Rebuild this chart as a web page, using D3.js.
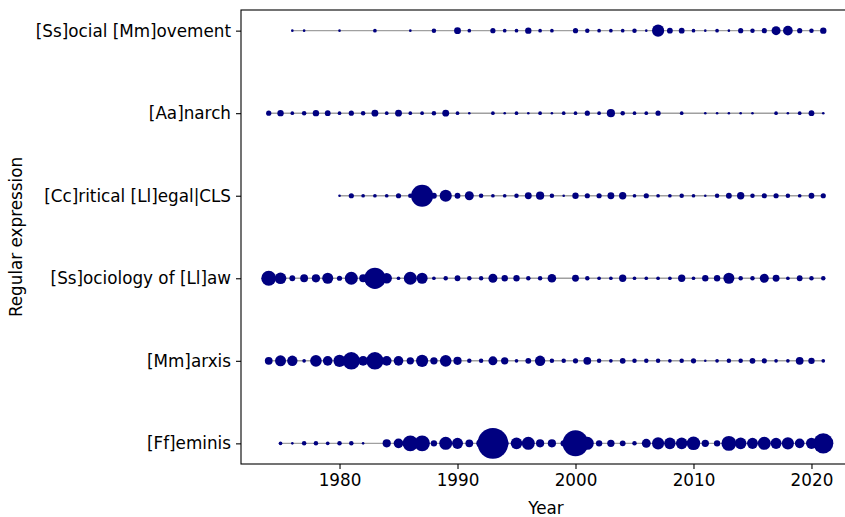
<!DOCTYPE html>
<html>
<head>
<meta charset="utf-8">
<script src="https://cdn.jsdelivr.net/npm/d3@7"></script>
<style>
  body { margin: 0; background: #fff; }
  svg { display: block; font-family: "DejaVu Sans", sans-serif; }
</style>
</head>
<body>
<svg id="chart" width="845" height="517"></svg>
<script>
/* data: [year, count] per regular expression */
const categories = [
  "[Ff]eminis",
  "[Mm]arxis",
  "[Ss]ociology of [Ll]aw",
  "[Cc]ritical [Ll]egal|CLS",
  "[Aa]narch",
  "[Ss]ocial [Mm]ovement"
];

const feminis = [
  [1975, 2], [1976, 1], [1977, 3], [1978, 3], [1979, 2], [1980, 3], [1981, 3], [1982, 1],
  [1984, 10], [1985, 14], [1986, 36], [1987, 36], [1988, 6], [1989, 25], [1990, 18],
  [1991, 9], [1992, 14], [1993, 140], [1994, 9], [1995, 20], [1996, 25], [1997, 10],
  [1998, 10], [1999, 6], [2000, 100], [2001, 25], [2002, 6], [2003, 8], [2004, 5],
  [2005, 3], [2006, 12], [2007, 22], [2008, 20], [2009, 20], [2010, 27], [2011, 8],
  [2012, 6], [2013, 33], [2014, 20], [2015, 18], [2016, 25], [2017, 18], [2018, 22],
  [2019, 14], [2020, 18], [2021, 60]
];

const marxis = [
  [1974, 9], [1975, 18], [1976, 16], [1977, 2], [1978, 20], [1979, 14], [1980, 22],
  [1981, 45], [1982, 14], [1983, 45], [1984, 14], [1985, 14], [1986, 8], [1987, 22],
  [1988, 8], [1989, 20], [1990, 10], [1991, 3], [1992, 3], [1993, 12], [1994, 8],
  [1995, 2], [1996, 5], [1997, 16], [1998, 3], [1999, 3], [2000, 4], [2001, 9],
  [2002, 3], [2003, 2], [2004, 5], [2005, 3], [2006, 3], [2007, 3], [2008, 2],
  [2009, 3], [2010, 4], [2011, 1], [2012, 2], [2013, 3], [2014, 3], [2015, 5],
  [2016, 4], [2017, 2], [2018, 2], [2019, 9], [2020, 6], [2021, 2]
];

const sociologyOfLaw = [
  [1974, 33], [1975, 20], [1976, 5], [1977, 9], [1978, 10], [1979, 18], [1980, 4],
  [1981, 25], [1982, 9], [1983, 67], [1984, 16], [1985, 2], [1986, 25], [1987, 18],
  [1988, 2], [1989, 3], [1990, 5], [1991, 3], [1992, 3], [1993, 12], [1994, 6],
  [1995, 6], [1996, 3], [1997, 3], [1998, 11], [2000, 7], [2001, 3], [2002, 2],
  [2003, 2], [2004, 8], [2005, 2], [2006, 2], [2007, 2], [2008, 2], [2009, 8],
  [2010, 2], [2011, 6], [2012, 6], [2013, 18], [2014, 3], [2015, 3], [2016, 12],
  [2017, 7], [2018, 2], [2019, 5], [2020, 3], [2021, 3]
];

const criticalLegal = [
  [1980, 1], [1981, 4], [1982, 2], [1983, 2], [1984, 2], [1985, 4], [1986, 3],
  [1987, 72], [1988, 5], [1989, 22], [1990, 5], [1991, 12], [1992, 3], [1993, 2],
  [1994, 2], [1995, 3], [1996, 7], [1997, 10], [1998, 3], [1999, 1], [2000, 6],
  [2001, 4], [2002, 4], [2003, 7], [2004, 8], [2005, 2], [2006, 4], [2007, 2],
  [2008, 2], [2009, 3], [2010, 2], [2011, 1], [2012, 3], [2013, 5], [2014, 8],
  [2015, 3], [2016, 4], [2017, 4], [2018, 3], [2019, 2], [2020, 5], [2021, 4]
];

const anarch = [
  [1974, 4], [1975, 6], [1976, 2], [1977, 3], [1978, 6], [1979, 5], [1980, 2],
  [1981, 4], [1982, 3], [1983, 7], [1984, 2], [1985, 7], [1986, 2], [1987, 2],
  [1988, 3], [1989, 7], [1990, 2], [1991, 1], [1993, 2], [1994, 1], [1995, 2],
  [1996, 1], [1997, 2], [1998, 1], [1999, 2], [2000, 2], [2001, 4], [2002, 2],
  [2003, 10], [2004, 3], [2005, 2], [2006, 2], [2007, 4], [2009, 2], [2011, 1],
  [2012, 1], [2013, 1], [2014, 1], [2015, 1], [2017, 2], [2018, 1], [2019, 2],
  [2020, 5], [2021, 1]
];

const socialMovement = [
  [1976, 1], [1977, 1], [1980, 1], [1983, 2], [1986, 1], [1988, 3], [1990, 7],
  [1991, 2], [1993, 4], [1994, 2], [1995, 2], [1996, 6], [1997, 2], [1998, 2],
  [2000, 4], [2001, 3], [2002, 2], [2003, 2], [2004, 2], [2005, 3], [2006, 1],
  [2007, 22], [2008, 5], [2009, 5], [2010, 2], [2011, 1], [2012, 2], [2013, 1],
  [2014, 4], [2015, 3], [2016, 4], [2017, 12], [2018, 14], [2019, 4], [2020, 3],
  [2021, 6]
];

const xTicks = [1980, 1990, 2000, 2010, 2020];

// rows in the same order as categories (bottom to top)
const rows = [feminis, marxis, sociologyOfLaw, criticalLegal, anarch, socialMovement];

// layout
const margin = { top: 10, left: 241, bottom: 464, right: 851 };
const fontSize = "16.8px";
const svg = d3.select("#chart");

const x = d3.scaleLinear().domain([1971.65, 2023.35]).range([margin.left, margin.right]);
const y = d3.scaleLinear().domain([-0.25, categories.length - 0.75]).range([margin.bottom, margin.top]);
const r = d3.scaleSqrt().domain([0, 100]).range([0, 13]);

// grey lines from first to last year
rows.forEach((data, i) => {
  const ext = d3.extent(data, d => d[0]);
  svg.append("line")
    .attr("x1", x(ext[0])).attr("x2", x(ext[1]))
    .attr("y1", y(i)).attr("y2", y(i))
    .style("stroke", "#a0a0a0")
    .style("stroke-width", 1.4);
});

// dots
rows.forEach((data, i) => {
  svg.append("g")
    .selectAll("circle")
    .data(data)
    .join("circle")
    .attr("cx", d => x(d[0]))
    .attr("cy", y(i))
    .attr("r", d => r(d[1]))
    .style("fill", "#000080");
});

// axes
const xAxis = svg.append("g")
  .attr("transform", `translate(0,${margin.bottom})`)
  .call(d3.axisBottom(x).tickValues(xTicks).tickFormat(d3.format("d")).tickSize(5).tickPadding(5));

const yAxis = svg.append("g")
  .attr("transform", `translate(${margin.left},0)`)
  .call(d3.axisLeft(y).tickValues(d3.range(categories.length)).tickFormat(i => categories[i]).tickSize(5).tickPadding(5));

[xAxis, yAxis].forEach(g => {
  g.select(".domain").remove();
  g.selectAll("line").style("stroke", "#000").style("stroke-width", 1.1);
  g.selectAll("text").style("font-size", fontSize).style("font-family", "DejaVu Sans").style("fill", "#000");
});

// frame
svg.append("rect")
  .attr("x", margin.left).attr("y", margin.top)
  .attr("width", margin.right - margin.left).attr("height", margin.bottom - margin.top)
  .style("fill", "none").style("stroke", "#000").style("stroke-width", 1.1);

// labels
svg.append("text")
  .attr("x", (margin.left + margin.right) / 2).attr("y", 514)
  .attr("text-anchor", "middle")
  .style("font-size", fontSize)
  .text("Year");

svg.append("text")
  .attr("transform", `translate(22,${(margin.top + margin.bottom) / 2}) rotate(-90)`)
  .attr("text-anchor", "middle")
  .style("font-size", fontSize)
  .text("Regular expression");
</script>
</body>
</html>
